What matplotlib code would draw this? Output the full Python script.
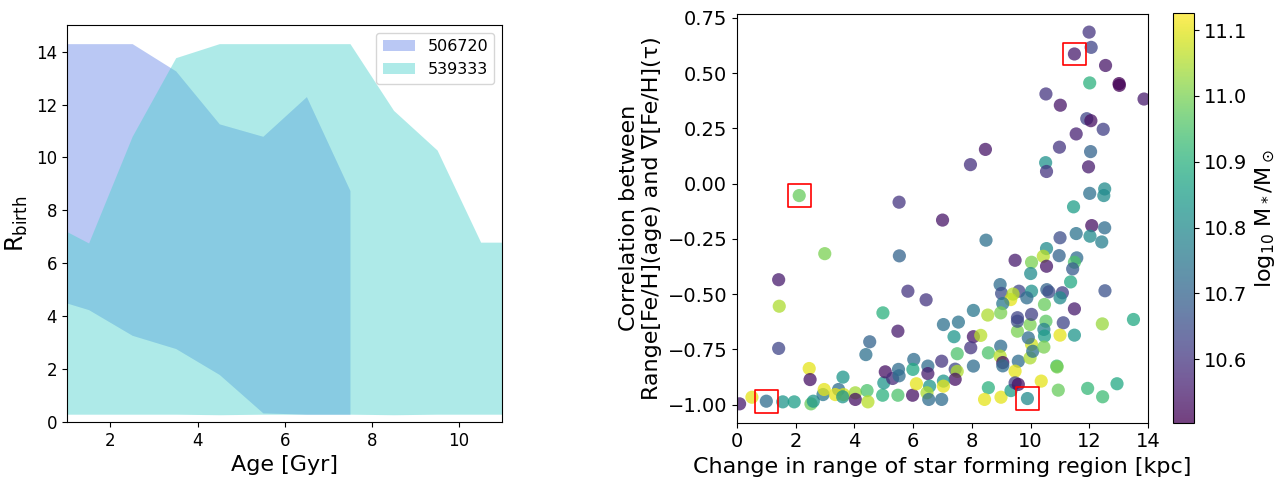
import numpy as np
import matplotlib.pyplot as plt

# left panel: birth radius ranges vs age
ages = [1.0, 1.5, 2.5, 3.5, 4.5, 5.5, 6.5, 7.5, 8.5, 9.5, 10.5, 11.0]
r_lo_506720 = [4.5, 4.25, 3.28, 2.78, 1.8, 0.35, 0.3, 0.3]
r_hi_506720 = [14.3, 14.3, 14.3, 13.27, 11.27, 10.8, 12.3, 8.75]
r_lo_539333 = [0.3, 0.3, 0.3, 0.3, 0.28, 0.3, 0.3, 0.3, 0.28, 0.3, 0.3, 0.3]
r_hi_539333 = [7.2, 6.77, 10.8, 13.77, 14.3, 14.3, 14.3, 14.3, 11.78, 10.28, 6.8, 6.8]
galaxy_ids = ["506720", "539333"]

# right panel: one point per galaxy
d_range = [11.99, 12.06, 11.49, 12.55, 12.01, 13.01, 13.02, 13.86, 10.52, 11.01,
           11.91, 12.05, 12.47, 11.55, 10.98, 12.04, 8.46, 7.95, 10.51, 10.54,
           11.97, 12.52, 12.01, 12.49, 11.46, 7.0, 12.08, 12.52, 2.12, 5.52,
           11.55, 12.02, 12.42, 11.0, 10.54, 10.97, 10.43, 11.57, 11.49, 11.43,
           10.54, 11.36, 10.55, 10.62, 11.08, 11.0, 12.53, 10.47, 11.49, 10.52,
           11.11, 12.44, 13.5, 11.0, 11.49, 10.89, 10.9, 10.94, 11.94, 12.45,
           12.94, 7.03, 7.54, 7.39, 8.05, 8.3, 7.96, 7.5, 8.56, 8.98,
           8.96, 9.05, 9.05, 6.97, 7.43, 7.5, 7.43, 8.05, 9.58, 9.47,
           9.98, 10.03, 9.92, 10.07, 9.55, 9.55, 9.98, 10.45, 10.47, 10.45,
           7.03, 7.03, 6.97, 8.56, 8.43, 8.99, 9.33, 9.47, 9.58, 9.89,
           10.36, 8.48, 9.47, 10.03, 10.0, 8.96, 9.01, 9.6, 10.03, 9.87,
           9.32, 9.4, 9.05, 8.05, 8.54, 8.98, 9.55, 10.03, 0.09, 0.51,
           1.0, 1.56, 1.95, 1.42, 1.44, 1.42, 2.99, 2.46, 2.49, 2.52,
           2.6, 2.93, 2.97, 3.46, 3.61, 3.35, 3.63, 3.6, 4.03, 4.03,
           4.43, 4.46, 4.39, 4.52, 4.97, 4.96, 5.0, 5.05, 5.3, 5.48,
           5.5, 5.52, 5.48, 5.53, 5.82, 6.44, 6.02, 5.99, 5.98, 6.11,
           6.5, 6.5, 6.56, 6.47, 6.53]
corr = [0.686, 0.617, 0.587, 0.535, 0.456, 0.453, 0.445, 0.383, 0.406, 0.355,
        0.294, 0.285, 0.246, 0.225, 0.165, 0.145, 0.155, 0.086, 0.095, 0.055,
        0.076, -0.024, -0.044, -0.054, -0.105, -0.165, -0.19, -0.2, -0.054, -0.084,
        -0.226, -0.238, -0.264, -0.245, -0.294, -0.326, -0.329, -0.336, -0.356, -0.386,
        -0.374, -0.445, -0.48, -0.49, -0.494, -0.517, -0.485, -0.547, -0.567, -0.623,
        -0.63, -0.635, -0.615, -0.686, -0.686, -0.826, -0.83, -0.935, -0.927, -0.965,
        -0.906, -0.638, -0.627, -0.693, -0.693, -0.687, -0.743, -0.77, -0.766, -0.736,
        -0.781, -0.81, -0.825, -0.804, -0.84, -0.85, -0.886, -0.826, -0.804, -0.849,
        -0.789, -0.728, -0.698, -0.759, -0.668, -0.623, -0.638, -0.66, -0.69, -0.74,
        -0.894, -0.917, -0.977, -0.924, -0.977, -0.967, -0.937, -0.902, -0.909, -0.973,
        -0.894, -0.256, -0.347, -0.356, -0.407, -0.457, -0.497, -0.487, -0.487, -0.517,
        -0.525, -0.5, -0.543, -0.574, -0.595, -0.585, -0.607, -0.592, -0.997, -0.967,
        -0.985, -0.988, -0.988, -0.435, -0.555, -0.746, -0.317, -0.837, -0.887, -0.997,
        -0.985, -0.955, -0.932, -0.932, -0.876, -0.955, -0.955, -0.965, -0.947, -0.977,
        -0.937, -0.988, -0.774, -0.716, -0.585, -0.958, -0.902, -0.852, -0.882, -0.958,
        -0.841, -0.87, -0.668, -0.327, -0.487, -0.526, -0.796, -0.841, -0.958, -0.906,
        -0.826, -0.86, -0.917, -0.947, -0.977]
log_mass = [10.60, 10.63, 10.55, 10.54, 10.90, 10.51, 10.51, 10.55, 10.60, 10.54,
            10.63, 10.53, 10.62, 10.56, 10.60, 10.70, 10.54, 10.59, 10.82, 10.60,
            10.55, 10.80, 10.73, 10.80, 10.85, 10.54, 10.53, 10.72, 10.98, 10.60,
            10.74, 10.80, 10.77, 10.65, 10.80, 10.70, 11.06, 10.72, 10.95, 10.68,
            10.54, 10.88, 10.70, 10.65, 10.62, 10.80, 10.66, 10.98, 10.55, 10.97,
            10.63, 11.03, 10.88, 11.10, 10.83, 10.93, 11.00, 10.98, 10.92, 10.93,
            10.88, 10.73, 10.74, 10.83, 10.54, 11.06, 10.60, 10.95, 10.95, 10.72,
            11.06, 10.53, 10.72, 10.60, 10.63, 11.05, 10.53, 10.72, 10.72, 11.10,
            11.05, 11.08, 10.72, 10.73, 11.00, 10.65, 11.00, 10.78, 10.85, 11.00,
            10.83, 11.10, 10.72, 10.90, 11.10, 11.10, 10.85, 10.62, 10.53, 10.80,
            11.10, 10.73, 10.55, 11.00, 10.80, 10.72, 10.65, 10.63, 10.82, 10.72,
            11.10, 11.06, 10.75, 10.75, 11.05, 11.00, 10.63, 10.62, 10.55, 11.10,
            10.72, 10.83, 10.85, 10.55, 11.05, 10.63, 11.00, 11.10, 10.53, 10.98,
            10.83, 10.75, 11.10, 10.72, 10.83, 11.10, 11.08, 10.83, 11.04, 10.53,
            10.95, 11.06, 10.73, 10.70, 10.90, 10.90, 10.83, 10.53, 10.58, 10.95,
            10.72, 10.72, 10.55, 10.70, 10.60, 10.60, 10.72, 10.88, 10.53, 11.10,
            10.72, 10.55, 10.83, 11.05, 10.72]

# highlighted galaxies (red boxes)
hl_range = [2.12, 1.0, 11.49, 9.89]
hl_corr = [-0.054, -0.985, 0.587, -0.973]

fig = plt.figure(figsize=(12.85, 4.83), dpi=100)

ax1 = fig.add_axes([0.052, 0.126, 0.339, 0.822])
n1 = len(r_lo_506720)
ax1.fill_between(ages[:n1], r_lo_506720, r_hi_506720, color="royalblue",
                 alpha=0.36, linewidth=0, label=galaxy_ids[0])
ax1.fill_between(ages, r_lo_539333, r_hi_539333, color="mediumturquoise",
                 alpha=0.44, linewidth=0, label=galaxy_ids[1])
ax1.set_xlim(1, 11)
ax1.set_ylim(0, 15)
ax1.set_yticks(range(0, 15, 2))
ax1.tick_params(labelsize=12)
ax1.set_xlabel("Age [Gyr]", fontsize=16)
ax1.set_ylabel(r"R$_{\rm birth}$", fontsize=17)
ax1.legend(loc="upper right", fontsize=11.5)

ax2 = fig.add_axes([0.5735, 0.125, 0.32, 0.846])
sc = ax2.scatter(d_range, corr, c=log_mass, cmap="viridis", vmin=10.503, vmax=11.126,
                 s=90, alpha=0.75, linewidths=0)
ax2.scatter(hl_range, hl_corr, marker="s", s=270, facecolors="none",
            edgecolors="red", linewidths=1.2)
ax2.set_xlim(0, 14)
ax2.set_ylim(-1.082, 0.768)
ax2.tick_params(labelsize=14)
ax2.set_xlabel("Change in range of star forming region [kpc]", fontsize=16)
ax2.set_ylabel("Correlation between\nRange[Fe/H](age) and \u2207[Fe/H](\u03c4)", fontsize=16)

cax = fig.add_axes([0.913, 0.124, 0.0163, 0.849])
cb = fig.colorbar(sc, cax=cax)
cb.set_ticks([10.6, 10.7, 10.8, 10.9, 11.0, 11.1])
cb.ax.tick_params(labelsize=14)
cb.set_label(r"log$_{10}$ M$_*$/M$_\odot$", fontsize=16)

fig.savefig("out.png", dpi=100)
